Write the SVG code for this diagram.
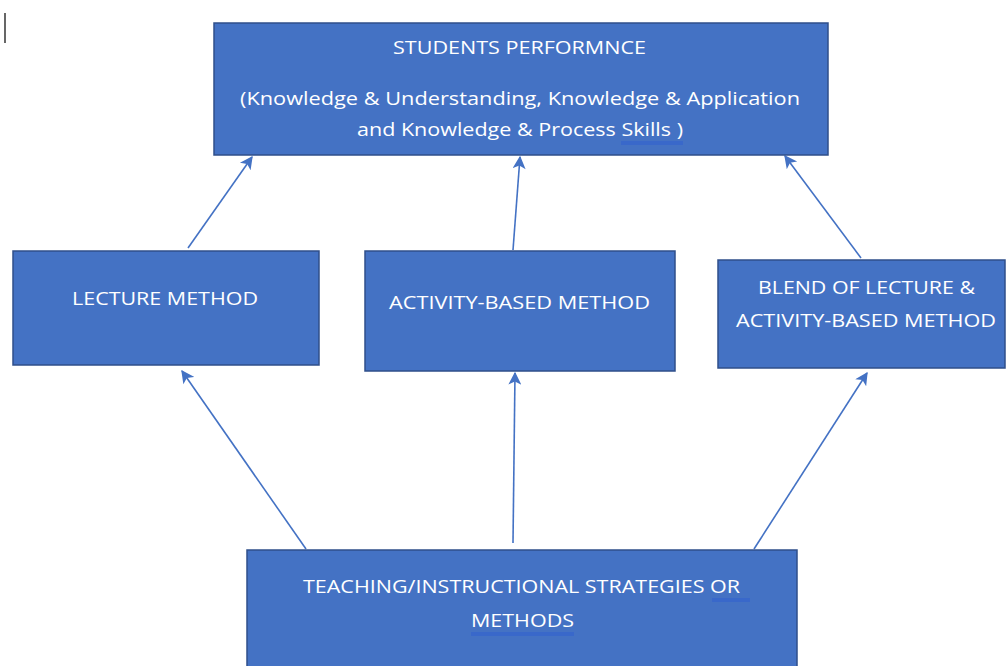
<svg xmlns="http://www.w3.org/2000/svg" width="1006" height="666" viewBox="0 0 1006 666">
<style>
.box{fill:#4472C4;stroke:#2F4F8A;stroke-width:1.5}
.t{font-family:"Open Sans","Liberation Sans",sans-serif;font-size:19px;fill:#FFFFFF;text-anchor:start}
.c{stroke:#4472C4;stroke-width:1.6;fill:none;marker-end:url(#ah)}
.ul{stroke:#2F5FD0;stroke-width:1;fill:none}
</style>
<defs>
<marker id="ah" viewBox="0 0 10 10" refX="9" refY="5" markerWidth="16" markerHeight="13" orient="auto" markerUnits="userSpaceOnUse">
<path d="M0,0 L10,5 L0,10 L2.5,5 Z" fill="#4472C4"/>
</marker>
</defs>
<rect width="1006" height="666" fill="#FFFFFF"/>
<line x1="5" y1="13" x2="5" y2="43" stroke="#000" stroke-width="1.2"/>
<g id="connectors">
<line class="c" x1="188" y1="248" x2="252" y2="157"/>
<line class="c" x1="513" y1="250" x2="520" y2="157"/>
<line class="c" x1="861" y1="258" x2="785" y2="156"/>
<line class="c" x1="306" y1="549" x2="182" y2="371"/>
<line class="c" x1="513" y1="543" x2="515" y2="373"/>
<line class="c" x1="754" y1="549" x2="867" y2="373"/>
</g>
<g id="performance">
<rect class="box" x="214" y="23" width="614" height="132"/>
<text class="t" x="393" y="54" textLength="253" lengthAdjust="spacingAndGlyphs">STUDENTS PERFORMNCE</text>
<text class="t" x="240" y="105" textLength="560" lengthAdjust="spacingAndGlyphs">(Knowledge &amp; Understanding, Knowledge &amp; Application</text>
<text class="t" x="357" y="136" textLength="326" lengthAdjust="spacingAndGlyphs">and Knowledge &amp; Process Skills )</text>
<line class="ul" x1="621" y1="142" x2="683" y2="142"/>
<line class="ul" x1="621" y1="144" x2="683" y2="144"/>
</g>
<g id="lecture">
<rect class="box" x="13" y="251" width="306" height="114"/>
<text class="t" x="72" y="305" textLength="186" lengthAdjust="spacingAndGlyphs">LECTURE METHOD</text>
</g>
<g id="activity">
<rect class="box" x="365" y="251" width="310" height="120"/>
<text class="t" x="389" y="309" textLength="261" lengthAdjust="spacingAndGlyphs">ACTIVITY-BASED METHOD</text>
</g>
<g id="blend">
<rect class="box" x="718" y="260" width="287" height="108"/>
<text class="t" x="758" y="294" textLength="217" lengthAdjust="spacingAndGlyphs">BLEND OF LECTURE &amp;</text>
<text class="t" x="736" y="327" textLength="260" lengthAdjust="spacingAndGlyphs">ACTIVITY-BASED METHOD</text>
</g>
<g id="strategies">
<rect class="box" x="247" y="550" width="550" height="120"/>
<text class="t" x="303" y="593" textLength="437" lengthAdjust="spacingAndGlyphs">TEACHING/INSTRUCTIONAL STRATEGIES OR</text>
<text class="t" x="471" y="627" textLength="103" lengthAdjust="spacingAndGlyphs">METHODS</text>
<line class="ul" x1="712" y1="599" x2="750" y2="599"/>
<line class="ul" x1="712" y1="601" x2="750" y2="601"/>
<line class="ul" x1="471" y1="633" x2="574" y2="633"/>
<line class="ul" x1="471" y1="635" x2="574" y2="635"/>
</g>
</svg>
